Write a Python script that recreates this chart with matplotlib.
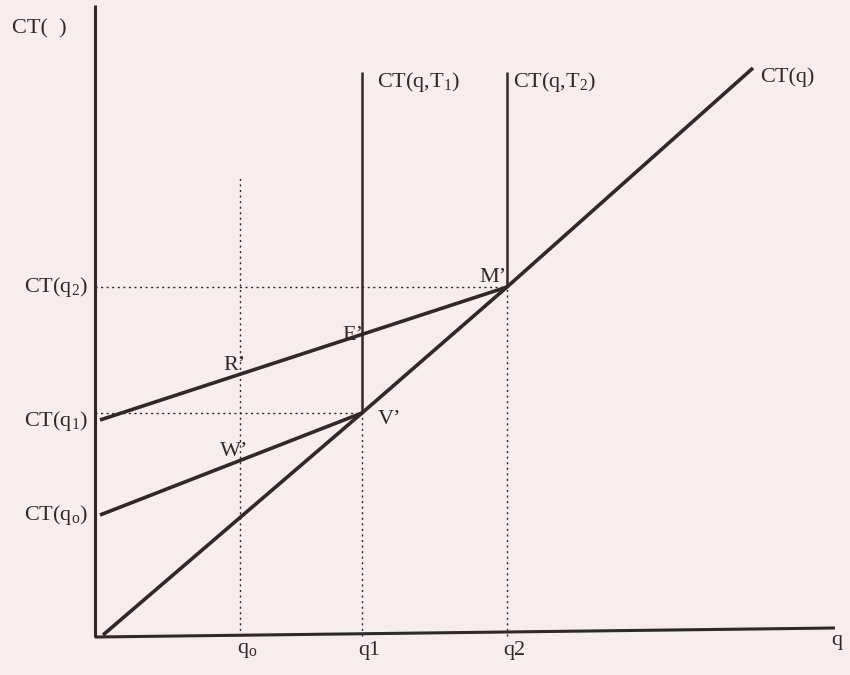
import matplotlib
matplotlib.use("Agg")
import matplotlib.pyplot as plt

plt.rcParams.update({
    'font.family': ['Liberation Serif', 'DejaVu Serif'],
    'mathtext.fontset': 'custom',
    'mathtext.rm': 'Liberation Serif',
    'mathtext.it': 'Liberation Serif:italic',
    'font.size': 16,
})

# output levels and their costs (arbitrary units, origin at the axes corner)
q_levels = [140, 262, 407]          # q0, q1, q2
q_labels = [r'q$_\mathrm{o}$', 'q1', 'q2']
ct_levels = [121, 223, 349]         # CT(q0), CT(q1), CT(q2)
ct_labels = [r'CT(q$_\mathrm{o}$)', r'CT(q$_\mathrm{1}$)', r'CT(q$_\mathrm{2}$)']

# long-run cost CT(q)
lr_q = [3, 262, 407, 653]
lr_ct = [1, 223, 349, 568]

# short-run costs with capacity T1 and T2 (rising part, then vertical wall)
sr1_q = [0, 262, 262]
sr1_ct = [121, 223, 564]
sr2_q = [0, 407, 407]
sr2_ct = [216, 349, 564]

# points on the short-run lines above q0 and q1
pts = {"W\u2019": (140, 176), "R\u2019": (140, 263), "V\u2019": (262, 223),
       "E\u2019": (262, 303), "M\u2019": (407, 349)}

ink = '#2e2a2a'
paper = '#f7eded'

fig = plt.figure(figsize=(8.5, 6.75), dpi=100, facecolor=paper)
ax = fig.add_axes([0, 0, 1, 1])
ax.set_facecolor(paper)
ax.set_xlim(-100, 750)
ax.set_ylim(-39, 636)
ax.axis('off')

# axes
ax.plot([-5, -5], [-1, 631], color=ink, lw=2.2, solid_capstyle='butt')
ax.plot([-5, 735], [-1, 8], color=ink, lw=2.2, solid_capstyle='butt')

# dotted guides
dot = dict(color=ink, lw=1.0, linestyle=(0, (1.5, 2.5)))
ax.plot([q_levels[0]] * 2, [0, 461], **dot)
ax.plot([q_levels[1]] * 2, [0, ct_levels[1]], **dot)
ax.plot([q_levels[2]] * 2, [0, ct_levels[2]], **dot)
ax.plot([-5, q_levels[1]], [ct_levels[1]] * 2, **dot)
ax.plot([-5, q_levels[2]], [ct_levels[2]] * 2, **dot)

# cost curves
ax.plot(lr_q, lr_ct, color=ink, lw=2.6, solid_capstyle='butt')
ax.plot(sr1_q[:2], sr1_ct[:2], color=ink, lw=2.6, solid_capstyle='butt')
ax.plot(sr1_q[1:], sr1_ct[1:], color=ink, lw=1.8, solid_capstyle='butt')
ax.plot(sr2_q[:2], sr2_ct[:2], color=ink, lw=2.6, solid_capstyle='butt')
ax.plot(sr2_q[1:], sr2_ct[1:], color=ink, lw=1.8, solid_capstyle='butt')

# curve names
ax.text(-88, 607, 'CT(  )', ha='left', va='center', color=ink)
ax.text(277, 554, r'CT(q,T$_\mathrm{1}$)', ha='left', va='center', color=ink)
ax.text(413, 554, r'CT(q,T$_\mathrm{2}$)', ha='left', va='center', color=ink)
ax.text(660, 559, 'CT(q)', ha='left', va='center', color=ink)

# cost levels on the vertical axis
for lvl, lab, dy in zip(ct_levels, ct_labels, [0, -8, 0]):
    ax.text(-12, lvl + dy, lab, ha='right', va='center', color=ink)

# output levels on the horizontal axis
for q, lab in zip(q_levels, q_labels):
    ax.text(q + 7, -14, lab, ha='center', va='center', color=ink)
ax.text(731, -4, 'q', ha='left', va='center', color=ink)

# point labels
offsets = {"W\u2019": (-6, 8), "R\u2019": (-5, 8), "V\u2019": (28, -7),
           "E\u2019": (-9, -3), "M\u2019": (-14, 9)}
for name, (x, y) in pts.items():
    dx, dy = offsets[name]
    ax.text(x + dx, y + dy, name, ha='center', va='center', color=ink)

fig.savefig('out.png', dpi=100, facecolor=paper)
